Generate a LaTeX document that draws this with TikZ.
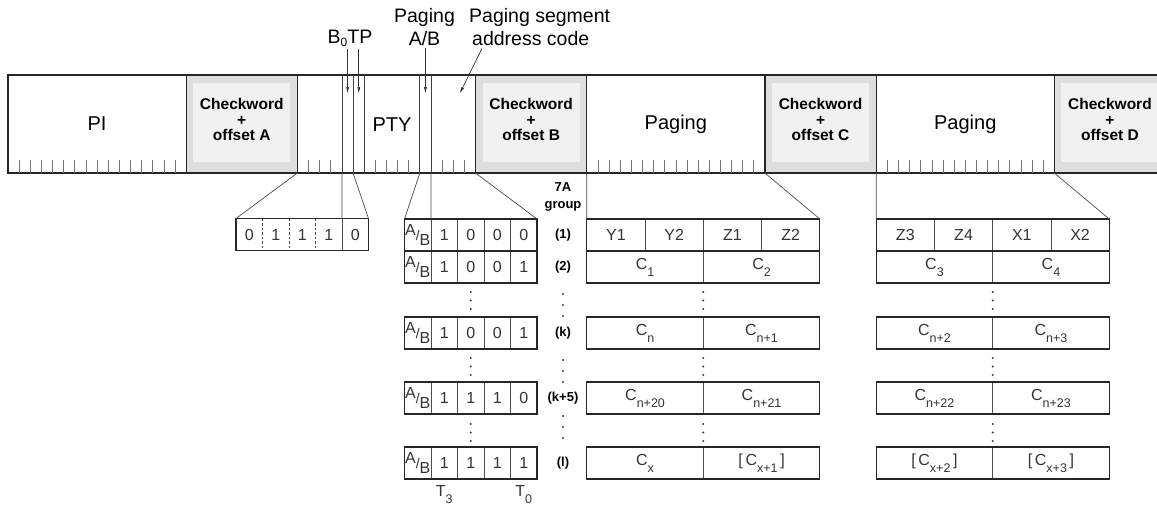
\documentclass[tikz,border=0pt]{standalone}
\usepackage{fontspec}
\setmainfont{Liberation Sans}
\usetikzlibrary{arrows.meta,calc}
\newcommand\sbs[1]{\raisebox{-7pt}{\fontsize{12.5}{13}\selectfont #1}}
\newcommand\sbsm[1]{\raisebox{-3.5pt}{\fontsize{12}{13}\selectfont #1}}
\newcommand\ABfrac{\raisebox{4pt}{A}\raisebox{-1pt}{\fontsize{14}{15}\selectfont/}\raisebox{-6.5pt}{B}}
\begin{document}
\begin{tikzpicture}[x=1pt,y=-1pt,
  seg/.style={draw=black!85, line width=1.2pt, inner sep=0pt, outer sep=0pt, minimum height=98pt, anchor=north west},
  cwbox/.style={seg, fill=gray!26, minimum width=111.3pt,
     path picture={\fill[gray!11] ([xshift=7pt,yshift=11pt]path picture bounding box.south west) rectangle ([xshift=-7pt,yshift=-8pt]path picture bounding box.north east);}},
  cwtext/.style={align=center, inner sep=0pt, font=\bfseries\fontsize{15.5}{15.5}\selectfont},
  infobox/.style={seg, minimum width=178.1pt, font=\fontsize{20}{24}\selectfont},
  tickline/.style={draw=black!55, line width=0.6pt},
  innerline/.style={draw=black!75, line width=0.8pt},
  conn/.style={draw=black!70, line width=0.7pt},
  arr/.style={draw=black!80, line width=0.7pt, -{Triangle[length=6pt,width=2.6pt]}},
  toplab/.style={font=\fontsize{19.5}{22}\selectfont, inner sep=0pt, anchor=base},
  cell/.style={inner sep=0pt, outer sep=0pt, minimum height=32pt, anchor=north west, font=\fontsize{16}{18}\selectfont, text=black!80},
  dcell/.style={cell, draw=black!70, line width=0.7pt},
  frame/.style={draw=black!85, line width=1.2pt},
  divline/.style={draw=black!70, line width=0.7pt},
  rowlab/.style={font=\bfseries\fontsize{13}{17}\selectfont, inner sep=0pt, align=center},
  vdot/.style={fill=black!75}
]
\useasboundingbox (0,0) rectangle (1157,507);

% ---------------- band ----------------
\node[infobox] (PI) at (8,75) {PI};
\node[cwbox] (cwA) at (PI.north east) {};
\node[infobox] (PTY) at (cwA.north east) {};
\node[cwbox] (cwB) at (PTY.north east) {};
\node[infobox] (PG1) at (cwB.north east) {Paging};
\node[cwbox] (cwC) at (PG1.north east) {};
\node[infobox] (PG2) at (cwC.north east) {Paging};
\node[cwbox] (cwD) at (PG2.north east) {};
\node[cwtext] (tA) at ($(cwA.center)+(0,-4.5)$) {Checkword\\+\\offset A};
\node[cwtext] (tB) at ($(cwB.center)+(0,-4.5)$) {Checkword\\+\\offset B};
\node[cwtext] (tC) at ($(cwC.center)+(0,-4.5)$) {Checkword\\+\\offset C};
\node[cwtext] (tD) at ($(cwD.center)+(0,-4.5)$) {Checkword\\+\\offset D};
\node[font=\fontsize{20}{24}\selectfont, inner sep=0pt] (ptytxt) at (392,125) {PTY};

% ticks
\foreach \n in {PI,PG1,PG2}
  \foreach \i in {1,...,15}
    \draw[tickline] ($(\n.south west)+(\i*11.13,0)$) -- ++(0,-13);
\foreach \i in {1,2,3,7,8,9,10,13,14,15}
  \draw[tickline] ($(PTY.south west)+(\i*11.13,0)$) -- ++(0,-13);
% full bit lines in PTY block
\foreach \i in {4,5,6,11,12} {
  \coordinate (top\i) at ($(PTY.north west)+(\i*11.13,0)$);
  \coordinate (bit\i) at ($(PTY.south west)+(\i*11.13,0)$);
  \draw[innerline] (top\i) -- (bit\i);
}

% ---------------- top labels and arrows ----------------
\node[toplab] (lPag) at (424.5,22) {Paging};
\node[toplab] (lAB) at (424.5,45) {A/B};
\node[toplab] (lBT) at (350,43) {B\sbsm{0}TP};
\node[toplab, anchor=base west] (lSeg) at (469,22) {Paging segment};
\node[toplab, anchor=base west] (lAddr) at (472,45) {address code};
\coordinate (tB0) at (347.6,93);
\coordinate (tTP) at (358.8,93);
\coordinate (tAB) at (425.4,93);
\coordinate (tSeg) at (460,93);
\draw[arr] ([yshift=-2pt]lBT.south -| tB0) -- (tB0);
\draw[arr] ([yshift=-2pt]lBT.south -| tTP) -- (tTP);
\draw[arr] ([yshift=-3pt]lAB.south -| tAB) -- (tAB);
\draw[arr] ([xshift=10pt,yshift=-3pt]lAddr.south west) -- (tSeg);

% ---------------- group code box ----------------
\foreach \i/\t in {0/0,1/1,2/1,3/1,4/0}
  \node[cell, minimum width=26.5pt] (g\i) at (236+\i*26.5,218.5) {\t};
\foreach \i in {0,1,2}
  \draw[divline, dash pattern=on 2.5pt off 2pt] (g\i.north east) -- (g\i.south east);
\draw[divline] (g3.north east) -- (g3.south east);
\draw[frame] (g0.north west) rectangle (g4.south east);
\draw[conn] (PTY.south west) -- (g0.north west);
\draw[conn] (bit4) -- (g3.north east);
\draw[conn] (bit5) -- (g4.north east);

% ---------------- A/B table ----------------
\foreach \r/\yy/\a/\b/\c/\d in {1/219/1/0/0/0, 2/251/1/0/0/1, k/317/1/0/0/1, m/382/1/1/1/0, l/447/1/1/1/1} {
  \node[dcell, minimum width=26.5pt] (ab\r0) at (404.5,\yy) {\ABfrac};
  \node[dcell, minimum width=26.5pt] (ab\r1) at (431,\yy) {\a};
  \node[dcell, minimum width=26.5pt] (ab\r2) at (457.5,\yy) {\b};
  \node[dcell, minimum width=26.5pt] (ab\r3) at (484,\yy) {\c};
  \node[dcell, minimum width=26.5pt] (ab\r4) at (510.5,\yy) {\d};
}
\draw[frame] (ab10.north west) rectangle (ab24.south east);
\draw[frame] (ab10.south west) -- (ab14.south east);
\draw[frame] (abk0.north west) rectangle (abk4.south east);
\draw[frame] (abm0.north west) rectangle (abm4.south east);
\draw[frame] (abl0.north west) rectangle (abl4.south east);
\draw[conn] (bit11) -- (ab10.north west);
\draw[conn] (bit12) -- (ab10.north east);
\draw[conn] (cwB.south west) -- (ab14.north east);
\node[cell, anchor=north, minimum height=0pt] (T3) at (444.2,485) {T\sbs{3}};
\node[cell, anchor=north, minimum height=0pt] (T0) at (523.7,485) {T\sbs{0}};

% ---------------- row labels ----------------
\node[rowlab] (grp) at (563,197) {7A\\group};
\node[rowlab] (r1) at (563,235) {(1)};
\node[rowlab] (r2) at (563,267) {(2)};
\node[rowlab] (rk) at (563,333) {(k)};
\node[rowlab] (rm) at (563,398) {(k+5)};
\node[rowlab] (rl) at (563,463) {(l)};

% ---------------- C tables ----------------
\foreach \i/\t in {0/Y1,1/Y2,2/Z1,3/Z2}
  \node[dcell, minimum width=58.25pt] (ca1\i) at (586.8+\i*58.25,219) {\t};
\foreach \i/\t in {0/Z3,1/Z4,2/X1,3/X2}
  \node[dcell, minimum width=58.25pt] (cb1\i) at (876.2+\i*58.25,219) {\t};
\foreach \r/\yy/\p/\q/\s/\u in {
   2/251/{C\sbs{1}}/{C\sbs{2}}/{C\sbs{3}}/{C\sbs{4}},
   k/317/{C\sbs{n}}/{C\sbs{n+1}}/{C\sbs{n+2}}/{C\sbs{n+3}},
   m/382/{C\sbs{n+20}}/{C\sbs{n+21}}/{C\sbs{n+22}}/{C\sbs{n+23}},
   l/447/{C\sbs{x}}/{[\,C\sbs{x+1}\,]}/{[\,C\sbs{x+2}\,]}/{[\,C\sbs{x+3}\,]}} {
  \node[dcell, minimum width=116.5pt] (ca\r0) at (586.8,\yy) {\p};
  \node[dcell, minimum width=116.5pt] (ca\r1) at (703.3,\yy) {\q};
  \node[dcell, minimum width=116.5pt] (cb\r0) at (876.2,\yy) {\s};
  \node[dcell, minimum width=116.5pt] (cb\r1) at (992.7,\yy) {\u};
}
\draw[frame] (ca10.north west) rectangle (ca21.south east);
\draw[frame] (ca10.south west) -- (ca13.south east);
\draw[frame] (cb10.north west) rectangle (cb21.south east);
\draw[frame] (cb10.south west) -- (cb13.south east);
\foreach \r in {k,m,l} {
  \draw[frame] (ca\r0.north west) rectangle (ca\r1.south east);
  \draw[frame] (cb\r0.north west) rectangle (cb\r1.south east);
}
\draw[conn] (PG1.south west) -- (ca10.north west);
\draw[conn] (cwC.south west) -- (ca13.north east);
\draw[conn] (PG2.south west) -- (cb10.north west);
\draw[conn] (cwD.south west) -- (cb13.north east);

% ---------------- vertical dots ----------------
\foreach \x in {470.75,703.3,992.7}
  \foreach \y in {292,300.5,309, 358,366.5,375, 424,432.5,441}
    \fill[vdot] (\x,\y) circle (1.1);
\foreach \y in {294,305,316, 360,371,382, 416,427,438}
  \fill[vdot] (563,\y) circle (1.1);
\end{tikzpicture}
\end{document}
